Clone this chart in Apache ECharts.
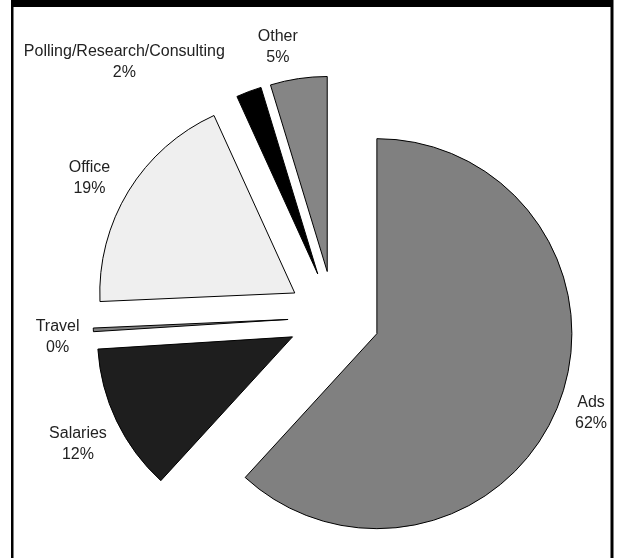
<!DOCTYPE html>
<html>
<head>
<meta charset="utf-8">
<script src="https://cdn.jsdelivr.net/npm/echarts@6/dist/echarts.min.js"></script>
<style>
  html, body { margin: 0; padding: 0; background: #fff; }
  #chart { width: 618px; height: 558px; }
</style>
</head>
<body>
<div id="chart"></div>
<script>
// spending categories and their share (percent)
var categories = ['Ads', 'Salaries', 'Travel', 'Office', 'Polling/Research/Consulting', 'Other'];
var values = [61.8, 12.2, 0.3, 18.9, 2.1, 4.7];
var colors = ['#808080', '#1e1e1e', '#808080', '#efefef', '#000000', '#858585'];

// label line lengths so each label sits where the original put it
var labelLen = {
    'Ads': [24, -11],
    'Salaries': [54, -44],
    'Travel': [130, -121],
    'Office': [25, -8],
    'Polling/Research/Consulting': [31, 8],
    'Other': [32, -9]
};

var myChart = echarts.init(document.getElementById('chart'));

var pieData = categories.map(function (name, i) {
    return {
        name: name,
        value: values[i],
        selected: true,
        itemStyle: { color: colors[i] },
        labelLine: { show: false, length: labelLen[name][0], length2: labelLen[name][1] }
    };
});

var option = {
    backgroundColor: '#fff',
    animation: false,
    graphic: [
        // the black frame round the picture
        { type: 'rect', shape: { x: 11, y: 0, width: 602, height: 7 }, style: { fill: '#000' } },
        { type: 'rect', shape: { x: 11, y: 0, width: 2.5, height: 558 }, style: { fill: '#000' } },
        { type: 'rect', shape: { x: 610.5, y: 0, width: 3, height: 558 }, style: { fill: '#000' } }
    ],
    series: [{
        type: 'pie',
        center: [334, 317],
        radius: 195,
        startAngle: 90,
        clockwise: true,
        selectedMode: 'multiple',
        selectedOffset: 46,
        avoidLabelOverlap: false,
        emphasis: { disabled: true },
        itemStyle: {
            borderColor: '#000',
            borderWidth: 1
        },
        label: {
            show: true,
            position: 'outside',
            formatter: function (p) {
                return '{a|' + p.name + '}\n{a|' + Math.round(p.percent) + '%}';
            },
            rich: {
                a: {
                    align: 'center',
                    fontSize: 16,
                    lineHeight: 21,
                    color: '#222',
                    fontFamily: 'Liberation Sans'
                }
            }
        },
        data: pieData
    }]
};
myChart.setOption(option);
window.onresize = function () {
    myChart.resize();
};
</script>
</body>
</html>
